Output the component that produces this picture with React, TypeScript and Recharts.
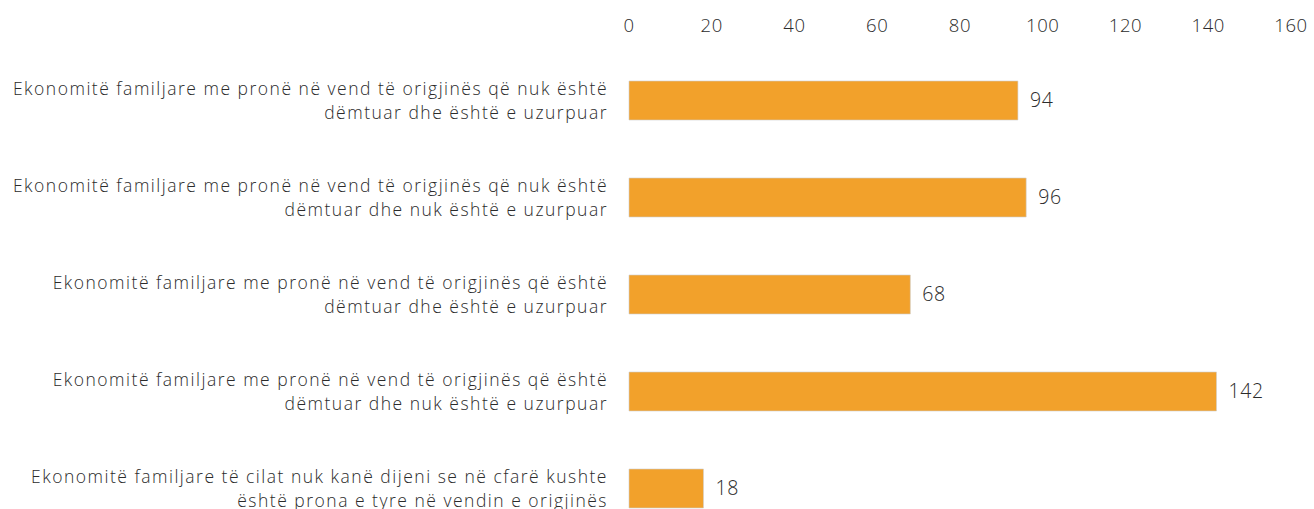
import { Bar, BarChart, LabelList, XAxis, YAxis } from "recharts";

const CATEGORIES = [
  ["Ekonomitë familjare me pronë në vend të origjinës që nuk është", "dëmtuar dhe është e uzurpuar"],
  ["Ekonomitë familjare me pronë në vend të origjinës që nuk është", "dëmtuar dhe nuk është e uzurpuar"],
  ["Ekonomitë familjare me pronë në vend të origjinës që është", "dëmtuar dhe është e uzurpuar"],
  ["Ekonomitë familjare me pronë në vend të origjinës që është", "dëmtuar dhe nuk është e uzurpuar"],
  ["Ekonomitë familjare të cilat nuk kanë dijeni se në cfarë kushte", "është prona e tyre në vendin e origjinës"],
];
const VALUES = [94, 96, 68, 142, 18];
const X_TICKS = [0, 20, 40, 60, 80, 100, 120, 140, 160];

const BAR_COLOR = "#F2A12B";
const TEXT = "#2b2b2b";
const FONT = "'Open Sans', Lato, sans-serif";

const data = CATEGORIES.map((lines, i) => ({ name: lines.join("\n"), value: VALUES[i] }));

function CategoryTick({ x, y, payload }: any) {
  const lines = String(payload.value).split("\n");
  return (
    <text
      x={x - 13}
      y={y}
      textAnchor="end"
      fill={TEXT}
      fontSize={17.5}
      fontWeight={300}
      letterSpacing={1.5}
      fontFamily={FONT}
    >
      {lines.map((l, i) => (
        <tspan key={i} x={x - 13} dy={i === 0 ? -6 : 24.5}>
          {l}
        </tspan>
      ))}
    </text>
  );
}

export default function App() {
  return (
    <div style={{ position: "absolute", left: 0, top: 0, width: 1314, height: 509, overflow: "hidden", background: "#fff" }}>
      <BarChart
        width={1314}
        height={580}
        data={data}
        layout="vertical"
        barCategoryGap={0}
        margin={{ top: 0, right: 23, left: 0, bottom: 43 }}
      >
        <XAxis
          type="number"
          orientation="top"
          domain={[0, 160]}
          ticks={X_TICKS}
          axisLine={false}
          tickLine={false}
          tickSize={0}
          tickMargin={20}
          height={52}
          tick={{ fontSize: 18.5, fill: TEXT, fontFamily: FONT, fontWeight: 300, letterSpacing: 0.6 }}
        />
        <YAxis
          type="category"
          dataKey="name"
          width={629}
          axisLine={false}
          tickLine={false}
          tick={<CategoryTick />}
          interval={0}
        />
        <Bar dataKey="value" fill={BAR_COLOR} stroke="#cfcfcf" strokeWidth={0.6} barSize={39} isAnimationActive={false}>
          <LabelList
            dataKey="value"
            position="right"
            offset={12}
            fill={TEXT}
            fontSize={19.5}
            fontWeight={300}
            letterSpacing={0.6}
            fontFamily={FONT}
          />
        </Bar>
      </BarChart>
    </div>
  );
}
